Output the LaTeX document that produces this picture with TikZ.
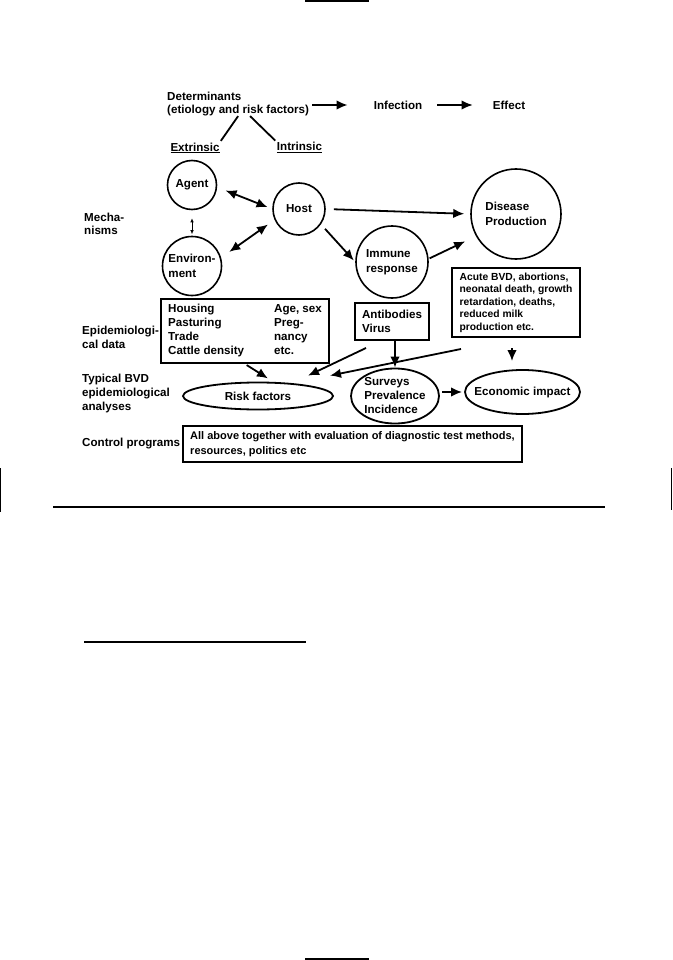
\documentclass[tikz,border=0pt]{standalone}
\usepackage{fontspec}
\setmainfont{Liberation Sans}
\usetikzlibrary{arrows.meta,shapes.geometric}

\newcommand{\bvdfont}{\bfseries\fontsize{11.6}{14}\selectfont}
\newcommand{\bvdsmall}{\bfseries\fontsize{10.3}{12.5}\selectfont}

\begin{document}
\begin{tikzpicture}[%
            x=1pt, y=-1pt,
            >={Latex[length=11pt,width=9.5pt]},
            every node/.style={font=\bvdfont},
            lbl/.style={inner sep=0pt, align=left},
            bubble/.style={circle, draw, line width=1.6pt, inner sep=0pt, align=left,
                font=\bfseries\fontsize{11.6}{15}\selectfont},
            databox/.style={rectangle, draw, line width=2pt, inner sep=0pt, align=left},
            oval/.style={ellipse, draw, line width=1.8pt, inner sep=0pt, align=left},
            link/.style={line width=1.8pt},
            page/.style={line width=1.2pt}
            ]
            \useasboundingbox (0,0) rectangle (672,960);

            \node[lbl, anchor=west, font=\bfseries\fontsize{11.6}{13}\selectfont] (det) at (167,104)
                {Determinants\\(etiology and risk factors)};
            \node[lbl] (inf) at (398,105) {Infection};
            \node[lbl] (eff) at (509,105) {Effect};
            \node[lbl] (extr) at (195,148) {\underline{Extrinsic}};
            \node[lbl] (intr) at (299.5,147.5) {\underline{Intrinsic}};

            \node[lbl, anchor=west, font=\bfseries\fontsize{11.6}{13}\selectfont] (mech) at (84,224) {Mecha-\\nisms};
            \node[bubble, minimum size=49pt] (agent) at (192,185) {Agent};
            \node[bubble, minimum size=52pt] (host) at (299,209) {Host};
            \node[bubble, minimum size=59pt] (env) at (192,266) {Environ-\\ment};
            \node[bubble, minimum size=72pt] (imm) at (392,262) {Immune\\response};
            \node[bubble, minimum size=90pt] (dis) at (516,214) {Disease\\Production};

            \node[lbl, anchor=west] (epilbl) at (82,337) {Epidemiologi-\\cal data};
            \node[databox, minimum width=168pt, minimum height=64pt] (epi) at (245,331)
                {\begin{tabular}{@{}p{106pt}@{}l@{}}
                 Housing & Age, sex\\
                 Pasturing & Preg-\\
                 Trade & nancy\\
                 Cattle density & etc.
                 \end{tabular}};
            \node[databox, minimum width=74pt, minimum height=37pt] (ab) at (392,321.5) {Antibodies\\Virus};
            \node[databox, minimum width=128pt, minimum height=69pt, font=\bvdsmall] (acute) at (516,302.5)
                {Acute BVD, abortions,\\neonatal death, growth\\retardation, deaths,\\reduced milk\\production etc.};

            \node[lbl, anchor=west] (bvdlbl) at (82,393) {Typical BVD\\epidemiological\\analyses};
            \node[oval, minimum width=150pt, minimum height=27pt] (risk) at (258,396) {Risk factors};
            \node[oval, minimum width=88pt, minimum height=55pt] (surv) at (395,396) {Surveys\\Prevalence\\Incidence};
            \node[oval, minimum width=115pt, minimum height=44pt, inner xsep=-15pt] (eco) at (522.5,392) {Economic impact};

            \node[lbl, anchor=west] (ctllbl) at (82,444) {Control programs};
            \node[databox, minimum width=339pt, minimum height=36pt, font=\bfseries\fontsize{11}{15}\selectfont] (ctl) at (352.5,444)
                {All above together with evaluation of diagnostic test methods,\\resources, politics etc};

            \path[->, link] (det.east |- inf.west) edge[shorten <=3pt, shorten >=26pt] (inf.west);
            \path[->, link] (inf.east) edge[shorten <=15pt, shorten >=20pt] (eff.west);
            \draw[link, shorten >=2pt] (det.south) -- (extr.north east);
            \draw[link, shorten >=2pt] ([shift={(12,0)}]det.south) -- (intr.north west);

            \path[<->, link] (agent.-5) edge[shorten <=9pt, shorten >=5pt] (host.west);
            \path[<->, link] (env.16) edge[shorten <=10pt, shorten >=8pt] (host.204);
            \path[<->, line width=0.7pt, >={Latex[length=4pt,width=3.5pt]}]
                (agent.south) edge[shorten <=8pt, shorten >=1.5pt] (env.north);
            \path[->, link] (host.east) edge[shorten <=8pt, shorten >=6pt] (dis.west);
            \path[->, link] (host.-35) edge[shorten <=6pt, shorten >=2pt] (imm.west);
            \path[->, link] (imm.5) edge[shorten <=1pt, shorten >=12pt] (dis.209);

            \path[->, link] (epi.south) edge[shorten <=2pt, shorten >=6pt] ([shift={(15,0)}]risk.north);
            \path[->, link] ([shift={(-26,7)}]ab.south) edge ([shift={(50,-6)}]risk.north);
            \path[->, link] ([shift={(-55,11)}]acute.south) edge ([shift={(72,-6)}]risk.north);
            \path[->, link] (surv.north |- ab.south) edge (surv.north);
            \path[->, link] ([shift={(-4,10)}]acute.south) edge ([shift={(-10.5,-8)}]eco.north);
            \path[->, link] (surv.east |- eco.west) edge[shorten <=2.5pt, shorten >=2pt] (eco.west);

            \draw[page] (305,1) -- (369,1);
            \draw[page] (0.6,468) -- (0.6,512);
            \draw[page] (671.4,468) -- (671.4,510);
            \draw[page] (53,507) -- (605,507);
            \draw[page] (84,642) -- (306,642);
            \draw[page] (305,959) -- (369,959);
\end{tikzpicture}
\end{document}
